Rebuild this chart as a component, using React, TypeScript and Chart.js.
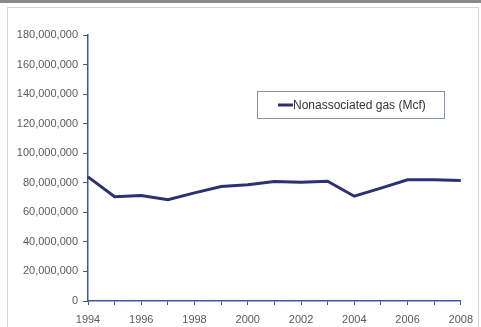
import React, { useEffect, useRef } from "react";
import { Chart, registerables } from "chart.js";

Chart.register(...registerables);

const years = ["1994","1995","1996","1997","1998","1999","2000","2001","2002","2003","2004","2005","2006","2007","2008"];
const nonassociatedGas = [84000000, 70500000, 71400000, 68500000, 73200000, 77500000, 78600000, 80900000, 80400000, 81100000, 70900000, 76400000, 82000000, 82000000, 81500000];
const seriesLabel = "Nonassociated gas (Mcf)";
const yMin = 0;
const yMax = 180000000;
const yStep = 20000000;

const LINE_COLOR = "#2b3171";
const AXIS_COLOR = "#3c55a8";
const TEXT_COLOR = "#5a5a5a";
const FONT = "'Liberation Sans', Arial, sans-serif";

const legendPlugin = {
  id: "boxLegend",
  afterDraw(chart: any) {
    const ctx = chart.ctx;
    const ds = chart.data.datasets[0];
    const x = 257.5, y = 91.5, w = 187, h = 27;
    ctx.save();
    ctx.strokeStyle = "#8d8fb0";
    ctx.lineWidth = 1;
    ctx.strokeRect(x, y, w, h);
    const cy = y + h / 2;
    ctx.strokeStyle = ds.borderColor;
    ctx.lineWidth = 3;
    ctx.beginPath();
    ctx.moveTo(278, cy);
    ctx.lineTo(293, cy);
    ctx.stroke();
    ctx.fillStyle = "#333333";
    ctx.font = `12px ${FONT}`;
    ctx.textBaseline = "middle";
    ctx.textAlign = "left";
    ctx.fillText(ds.label, 293, cy + 0.5);
    ctx.restore();
  },
};

export default function App() {
  const ref = useRef<HTMLCanvasElement>(null);
  useEffect(() => {
    if (!ref.current) return;
    const chart = new Chart(ref.current, {
      type: "line",
      data: {
        labels: years,
        datasets: [
          {
            label: seriesLabel,
            data: nonassociatedGas,
            borderColor: LINE_COLOR,
            backgroundColor: LINE_COLOR,
            borderWidth: 3,
            pointRadius: 0,
            tension: 0,
          },
        ],
      },
      options: {
        responsive: false,
        animation: false,
        layout: { padding: { top: 35, right: 20, left: 0, bottom: 0 } },
        plugins: { legend: { display: false }, tooltip: { enabled: false } },
        scales: {
          x: {
            type: "category",
            offset: false,
            afterFit: (s: any) => { s.height = 26; },
            grid: { drawOnChartArea: false, drawTicks: true, tickLength: 4, color: AXIS_COLOR, lineWidth: 1 },
            border: { color: AXIS_COLOR, width: 1.5 },
            ticks: {
              autoSkip: false,
              maxRotation: 0,
              padding: 8,
              color: TEXT_COLOR,
              font: { family: FONT, size: 11 },
              callback: (_v: any, i: number) => (i % 2 === 0 ? years[i] : ""),
            },
          },
          y: {
            min: yMin,
            max: yMax,
            afterFit: (s: any) => { s.width = 88; },
            grid: { drawOnChartArea: false, drawTicks: true, tickLength: 5, color: AXIS_COLOR, lineWidth: 1 },
            border: { color: AXIS_COLOR, width: 1.5 },
            ticks: {
              stepSize: yStep,
              padding: 5,
              color: TEXT_COLOR,
              font: { family: FONT, size: 11 },
              callback: (v: any) => Number(v).toLocaleString("en-US"),
            },
          },
        },
      },
      plugins: [legendPlugin],
    });
    return () => chart.destroy();
  }, []);

  return (
    <div style={{ position: "fixed", left: 0, top: 0, width: 481, height: 327, background: "#fff", overflow: "hidden" }}>
      <div style={{ position: "absolute", left: 0, top: 0, width: 481, height: 3, background: "#8a8a8a" }} />
      <div style={{ position: "absolute", left: 7, top: 7, width: 470, height: 340, border: "1px solid #d4d4d4" }} />
      <canvas ref={ref} width={481} height={327} style={{ position: "absolute", left: 0, top: 0 }} />
    </div>
  );
}
